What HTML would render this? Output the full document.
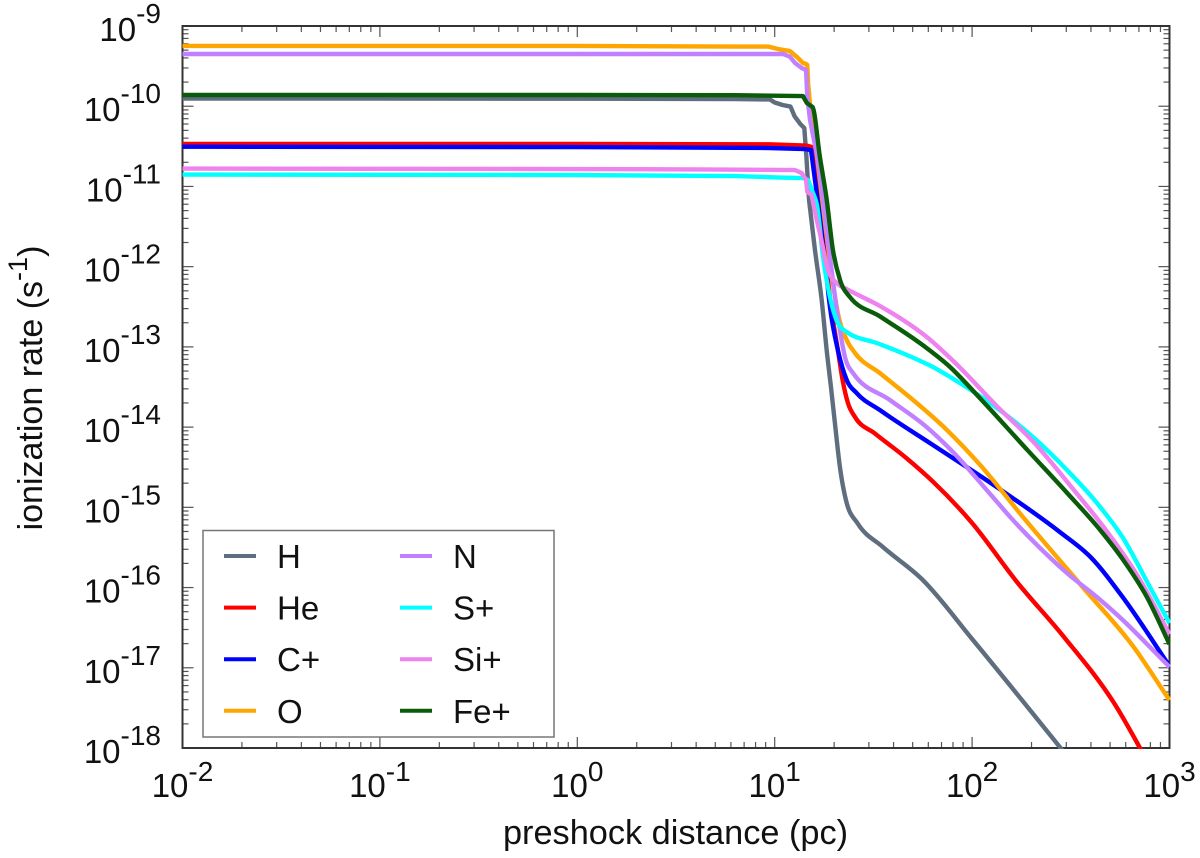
<!DOCTYPE html>
<html lang="en">
<head>
<meta charset="utf-8">
<title>Ionization rate vs preshock distance</title>
<style>
html,body{margin:0;padding:0;background:#fff;}
svg{display:block;}
text{font-family:"Liberation Sans",Arial,sans-serif;fill:#111;}
</style>
</head>
<body>
<svg id="chart" xmlns="http://www.w3.org/2000/svg" width="1200" height="858" viewBox="0 0 1200 858">
  <defs><clipPath id="plot-clip"><rect x="182" y="25" width="988.5" height="724"/></clipPath></defs>
  <g id="ticks"></g>
  <rect x="182.5" y="26" width="987" height="722" fill="none" stroke="#333" stroke-width="2"/>
  <g id="tick-labels"></g>
  <g id="series" clip-path="url(#plot-clip)"></g>
  <text x="675.5" y="844" font-size="34.3" text-anchor="middle">preshock distance (pc)</text>
  <text transform="translate(42,388) rotate(-90)" font-size="34" text-anchor="middle">ionization rate (s<tspan font-size="27" dy="-15">-1</tspan><tspan dy="15">)</tspan></text>
  <g>
    <rect x="203" y="530.5" width="351" height="206.5" fill="#fff" stroke="#777" stroke-width="1.5"/>
    <g id="legend-entries"></g>
  </g>
</svg>
<script>
const xDecades = [-2, -1, 0, 1, 2, 3];
const yDecades = [-18, -17, -16, -15, -14, -13, -12, -11, -10, -9];
const minorMultipliers = [2, 3, 4, 5, 6, 7, 8, 9];

const seriesNames = ["H", "He", "C+", "O", "N", "S+", "Si+", "Fe+"];
const seriesColors = ["#5f6e7e", "#ff0000", "#0000ff", "#ffa500", "#c080ff", "#00ffff", "#ee82ee", "#0a5c0a"];

const hLogDistance = [-2,0,0.8,0.976,1.0,1.04,1.08,1.10,1.13,1.15,1.16,1.174,1.204,1.238,1.265,1.285,1.305,1.33,1.365,1.42,1.549,1.751,2.005,2.445,2.547];
const hLogRate = [-9.904,-9.906,-9.91,-9.916,-9.954,-9.985,-10.004,-10.122,-10.222,-10.272,-10.609,-11.17,-11.793,-12.416,-13.08,-13.50,-13.95,-14.49,-14.948,-15.2,-15.496,-15.908,-16.656,-17.99,-18.302];

const heLogDistance = [-2,0,0.976,1.159,1.189,1.209,1.229,1.255,1.29,1.32,1.344,1.371,1.407,1.508,1.669,1.802,1.998,2.227,2.46,2.714,2.927];
const heLogRate = [-10.471,-10.471,-10.475,-10.49,-10.509,-10.92,-11.332,-11.855,-12.579,-13.04,-13.414,-13.70,-13.875,-14.08,-14.39,-14.68,-15.19,-15.93,-16.6,-17.42,-18.339];

const cLogDistance = [-2,0,0.976,1.154,1.184,1.204,1.224,1.255,1.28,1.32,1.365,1.415,1.533,1.802,2.125,2.445,2.6,2.775,3];
const cLogRate = [-10.505,-10.509,-10.521,-10.534,-10.546,-10.92,-11.294,-11.943,-12.504,-13.04,-13.414,-13.576,-13.788,-14.224,-14.748,-15.309,-15.62,-16.16,-16.98];

const oLogDistance = [-2,0,0.8,0.966,1.017,1.077,1.113,1.143,1.16,1.165,1.17,1.178,1.204,1.229,1.26,1.295,1.32,1.365,1.407,1.533,1.70,1.87,2.04,2.258,2.562,2.815,3];
const oLogRate = [-9.249,-9.249,-9.256,-9.256,-9.287,-9.312,-9.387,-9.461,-9.474,-9.486,-9.736,-9.948,-10.421,-10.92,-11.544,-12.204,-12.579,-12.915,-13.077,-13.327,-13.66,-14.03,-14.47,-15.122,-16.0,-16.73,-17.404];

const nLogDistance = [-2,0,0.8,1.042,1.077,1.103,1.137,1.159,1.165,1.179,1.214,1.245,1.28,1.32,1.356,1.397,1.584,1.77,1.903,2.09,2.2,2.329,2.481,2.633,2.764,2.916,3];
const nLogRate = [-9.349,-9.349,-9.349,-9.349,-9.383,-9.461,-9.524,-9.549,-9.885,-10.172,-10.608,-11.17,-11.88,-12.628,-13.127,-13.327,-13.663,-14,-14.31,-14.83,-15.14,-15.47,-15.82,-16.12,-16.406,-16.78,-16.99];

const sLogDistance = [-2,0,0.8,1.027,1.143,1.169,1.194,1.214,1.245,1.28,1.32,1.365,1.518,1.635,1.802,1.954,2.106,2.309,2.481,2.633,2.764,2.901,3];
const sLogRate = [-10.852,-10.858,-10.87,-10.889,-10.895,-10.92,-11.082,-11.232,-11.88,-12.379,-12.703,-12.815,-12.953,-13.065,-13.252,-13.476,-13.726,-14.125,-14.536,-14.948,-15.38,-15.995,-16.444];

const siLogDistance = [-2,0,0.724,1.103,1.137,1.159,1.165,1.187,1.213,1.229,1.27,1.32,1.365,1.533,1.771,1.923,2.126,2.309,2.511,2.683,2.835,3];
const siLogRate = [-10.777,-10.783,-10.789,-10.796,-10.833,-10.92,-11.066,-11.107,-11.419,-11.581,-12.042,-12.217,-12.28,-12.49,-12.878,-13.22,-13.74,-14.18,-14.77,-15.30,-15.84,-16.581];

const feLogDistance = [-2,0,0.8,1.143,1.163,1.192,1.229,1.263,1.295,1.331,1.381,1.533,1.751,1.888,2.04,2.278,2.481,2.648,2.764,2.886,3];
const feLogRate = [-9.86,-9.86,-9.863,-9.873,-9.96,-10.01,-10.633,-11.157,-11.793,-12.167,-12.379,-12.62,-12.98,-13.25,-13.64,-14.28,-14.82,-15.28,-15.65,-16.12,-16.706];

const seriesDistances = [hLogDistance, heLogDistance, cLogDistance, oLogDistance, nLogDistance, sLogDistance, siLogDistance, feLogDistance];
const seriesRates = [hLogRate, heLogRate, cLogRate, oLogRate, nLogRate, sLogRate, siLogRate, feLogRate];

const SVGNS = "http://www.w3.org/2000/svg";
const plot = { left: 182.5, right: 1169.5, top: 26, bottom: 748 };
const smoothFromLogDistance = 1.19;

function xScale(v) {
  return plot.left + (v + 2) / 5 * (plot.right - plot.left);
}
function yScale(v) {
  return plot.top + (-9 - v) / 9 * (plot.bottom - plot.top);
}
function make(tag, attrs, parent) {
  const el = document.createElementNS(SVGNS, tag);
  for (const k in attrs) el.setAttribute(k, attrs[k]);
  parent.appendChild(el);
  return el;
}

/* Straight segments on the stepped plateau, monotone cubic on the smooth tail. */
function linePath(logX, logY) {
  const px = logX.map(xScale);
  const py = logY.map(yScale);
  const n = px.length;
  const slopes = [];
  for (let i = 0; i < n - 1; i++) slopes.push((py[i + 1] - py[i]) / (px[i + 1] - px[i]));
  const tangents = [];
  for (let i = 0; i < n; i++) {
    if (i === 0) { tangents.push(slopes[0]); continue; }
    if (i === n - 1) { tangents.push(slopes[n - 2]); continue; }
    const h0 = px[i] - px[i - 1];
    const h1 = px[i + 1] - px[i];
    const s0 = slopes[i - 1];
    const s1 = slopes[i];
    const p = (s0 * h1 + s1 * h0) / (h0 + h1);
    const sign = (Math.sign(s0) + Math.sign(s1));
    tangents.push(sign * Math.min(Math.abs(s0), Math.abs(s1), 0.5 * Math.abs(p)) || 0);
  }
  let d = "M" + px[0].toFixed(2) + "," + py[0].toFixed(2);
  for (let i = 0; i < n - 1; i++) {
    if (logX[i] < smoothFromLogDistance) {
      d += "L" + px[i + 1].toFixed(2) + "," + py[i + 1].toFixed(2);
    } else {
      const h = (px[i + 1] - px[i]) / 3;
      d += "C" + (px[i] + h).toFixed(2) + "," + (py[i] + h * tangents[i]).toFixed(2) + " " +
           (px[i + 1] - h).toFixed(2) + "," + (py[i + 1] - h * tangents[i + 1]).toFixed(2) + " " +
           px[i + 1].toFixed(2) + "," + py[i + 1].toFixed(2);
    }
  }
  return d;
}

const tickGroup = document.getElementById("ticks");
const labelGroup = document.getElementById("tick-labels");
const seriesGroup = document.getElementById("series");
const legendGroup = document.getElementById("legend-entries");

function tickLine(x1, y1, x2, y2, kind) {
  const el = make("line", { x1: x1, y1: y1, x2: x2, y2: y2, stroke: "#555", "stroke-width": 1.2 }, tickGroup);
  
  
}

function powerLabel(x, y, exponent, anchor, supRise, kind) {
  const t = make("text", { x: x, y: y, "text-anchor": anchor, "font-size": 33 }, labelGroup);
  
  
  const base = make("tspan", {}, t);
  base.textContent = "10";
  const sup = make("tspan", { dy: -supRise, "font-size": 28 }, t);
  sup.textContent = String(exponent);
}

xDecades.forEach(function (d, i) {
  const px = xScale(d);
  tickLine(px, plot.bottom, px, plot.bottom - 11, "x-major-tick");
  tickLine(px, plot.top, px, plot.top + 11, "x-major-tick");
  powerLabel(px, 797, d, "middle", 16, "x-tick-label");
  if (i < xDecades.length - 1) {
    minorMultipliers.forEach(function (m) {
      const mx = xScale(d + Math.log10(m));
      tickLine(mx, plot.bottom, mx, plot.bottom - 6, "x-minor-tick");
      tickLine(mx, plot.top, mx, plot.top + 6, "x-minor-tick");
    });
  }
});

yDecades.forEach(function (d, i) {
  const py = yScale(d);
  tickLine(plot.left, py, plot.left + 11, py, "y-major-tick");
  tickLine(plot.right, py, plot.right - 11, py, "y-major-tick");
  powerLabel(161, py + 15, d, "end", 18, "y-tick-label");
  if (i < yDecades.length - 1) {
    minorMultipliers.forEach(function (m) {
      const my = yScale(d + Math.log10(m));
      tickLine(plot.left, my, plot.left + 6, my, "y-minor-tick");
      tickLine(plot.right, my, plot.right - 6, my, "y-minor-tick");
    });
  }
});

seriesNames.forEach(function (name, s) {
  const line = make("path", { d: linePath(seriesDistances[s], seriesRates[s]), fill: "none", stroke: seriesColors[s], "stroke-width": 4.4, "stroke-linejoin": "round" }, seriesGroup);
  
  

  const col = s < 4 ? 0 : 1;
  const row = s % 4;
  const sx = col === 0 ? 224 : 400;
  const tx = col === 0 ? 277 : 453;
  const rowY = 556 + row * 51.6;
  const sample = make("line", { x1: sx, y1: rowY, x2: sx + 32, y2: rowY, stroke: seriesColors[s], "stroke-width": 4 }, legendGroup);
  
  
  const label = make("text", { x: tx, y: rowY + 12, "font-size": 33 }, legendGroup);
  
  
  label.textContent = name;
});
</script>
</body>
</html>
